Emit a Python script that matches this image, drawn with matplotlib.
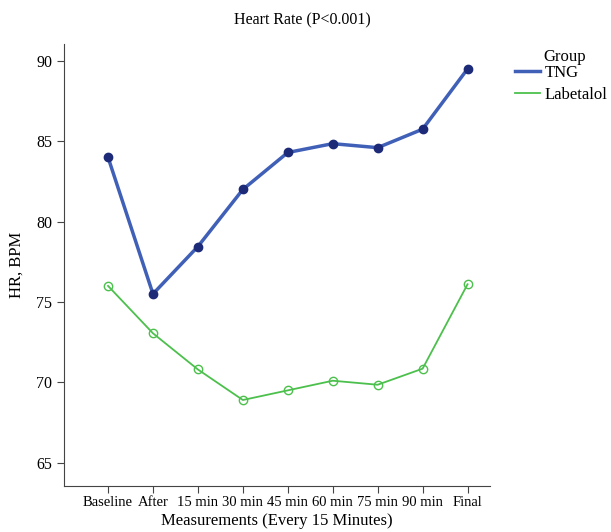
import matplotlib
matplotlib.use("Agg")
import matplotlib.pyplot as plt
from matplotlib.lines import Line2D
import numpy as np

categories = ["Baseline", "After", "15 min", "30 min", "45 min", "60 min", "75 min", "90 min", "Final"]
tng = [84.0, 75.5, 78.45, 82.0, 84.3, 84.85, 84.6, 85.75, 89.5]
labetalol = [76.0, 73.05, 70.8, 68.9, 69.5, 70.1, 69.85, 70.85, 76.1]
yticks = [65, 70, 75, 80, 85, 90]

plt.rcParams['font.family'] = ['Liberation Serif', 'DejaVu Serif']

W, H = 611, 532
fig = plt.figure(figsize=(W/100, H/100), dpi=100)
ax = fig.add_axes([64/W, 1-486/H, (490-64)/W, (486-44)/H])

tng_line = "#4060b8"
lab_line = "#4cc04c"
x = np.arange(len(categories))
ax.plot(x, tng, color=tng_line, lw=2.5, marker="o", ms=6,
        mfc="#1c2a78", mec="#1c2a78", zorder=3)
ax.plot(x, labetalol, color=lab_line, lw=1.3, marker="o", ms=6,
        mfc="none", mec=lab_line, zorder=3)

ax.set_xlim(-0.98, 8.5)
ax.set_ylim(63.55, 91.05)
ax.set_xticks(x)
ax.set_xticklabels(categories, fontsize=10.5)
ax.set_yticks(yticks)
ax.set_yticklabels([str(v) for v in yticks], fontsize=11.5)
for s in ["top", "right"]:
    ax.spines[s].set_visible(False)
for s in ["left", "bottom"]:
    ax.spines[s].set_color("#444444")
ax.tick_params(direction="out", length=5, color="#444444")
ax.tick_params(axis="x", pad=2)

ax.set_xlabel("Measurements (Every 15 Minutes)", fontsize=12, labelpad=3)
ax.set_ylabel("HR, BPM", fontsize=12, labelpad=8)
fig.text(0.5 * (64 + 540) / W, 1 - 20/H, "Heart Rate (P<0.001)", fontsize=11.5,
         ha="center", va="center")

handles = [Line2D([], [], color=tng_line, lw=2.5),
           Line2D([], [], color=lab_line, lw=1.3)]
fig.text(543/W, 1 - 57/H, "Group", fontsize=12, ha="left", va="center")
fig.legend(handles, ["TNG", "Labetalol"], loc="upper left",
           bbox_to_anchor=(515/W, 1 - 65/H), frameon=False, fontsize=12,
           handlelength=1.5, handletextpad=0.3, borderaxespad=0,
           borderpad=0, labelspacing=0.35)

fig.savefig("out.png", dpi=100)
